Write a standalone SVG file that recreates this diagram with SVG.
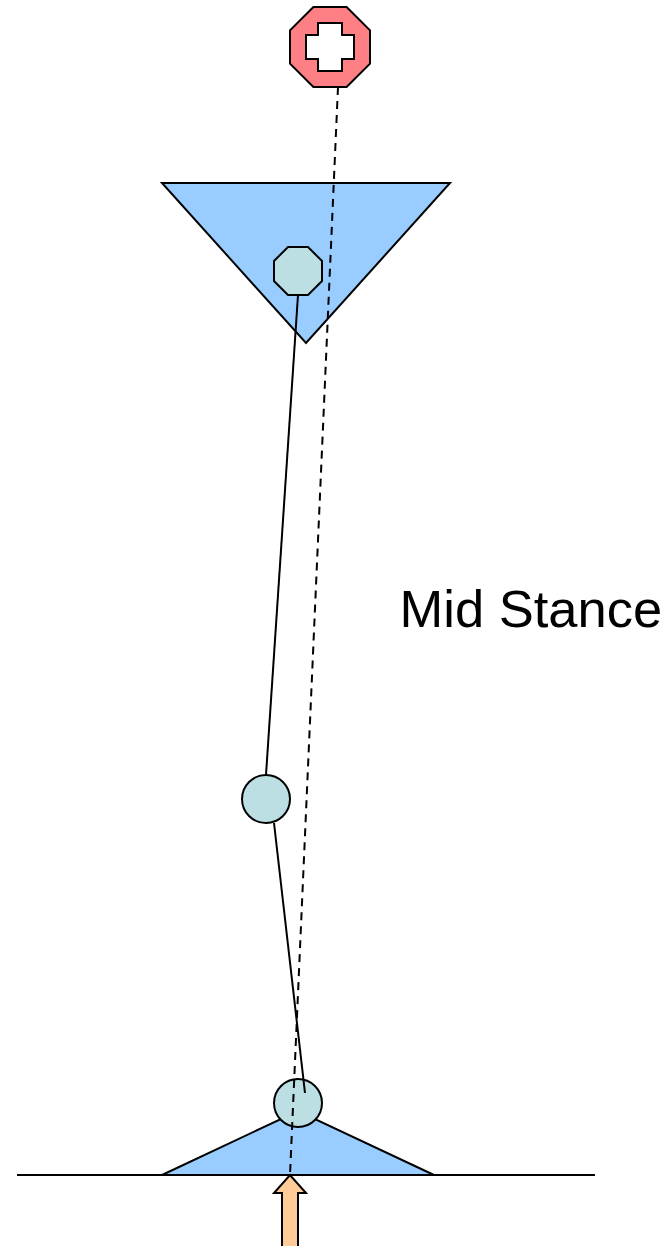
<svg xmlns="http://www.w3.org/2000/svg" width="669" height="1246" viewBox="0 0 669 1246">
<style>
.s{stroke:#000;stroke-width:2;stroke-linejoin:miter}
.blue{fill:#99ccff}
.teal{fill:#bbdfe3}
.l{fill:none;stroke:#000;stroke-width:2}
.t{font-family:"Liberation Sans",Arial,sans-serif;font-size:52.500px;fill:#000}
</style>
<rect width="669" height="1246" fill="#fff"/>
<g id="ground-line"><path class="l" d="M17 1175H595"/></g>
<g id="foot"><path class="s blue" d="M162 1175L298 1111L434 1175Z"/></g>
<g id="pelvis"><path class="s blue" d="M162 183H450L306 343Z"/></g>
<g id="hip"><path class="s teal" d="M288 247H308L322 261V281L308 295H288L274 281V261Z"/></g>
<g id="knee"><circle class="s teal" cx="266" cy="799" r="24"/></g>
<g id="ankle"><circle class="s teal" cx="298" cy="1103" r="24"/></g>
<g id="head"><path class="s" fill="#ff8084" fill-rule="evenodd" d="M313.400 7H346.600L370 30.400V63.600L346.600 87H313.400L290 63.600V30.400ZM318 23V35H306V59H318V71H342V59H354V35H342V23Z"/></g>
<g id="arrow"><path class="s" fill="#ffcc99" d="M282 1248V1193H274L290 1175L306 1193H298V1248Z"/></g>
<g id="connectors">
<path class="l" d="M298 295L266 775"/>
<path class="l" d="M274 823L305 1093"/>
<path class="l" stroke-dasharray="8 6" d="M338 87L290 1175"/>
</g>
<g id="label"><text class="t" x="399.500" y="627">Mid Stance</text></g>
</svg>
